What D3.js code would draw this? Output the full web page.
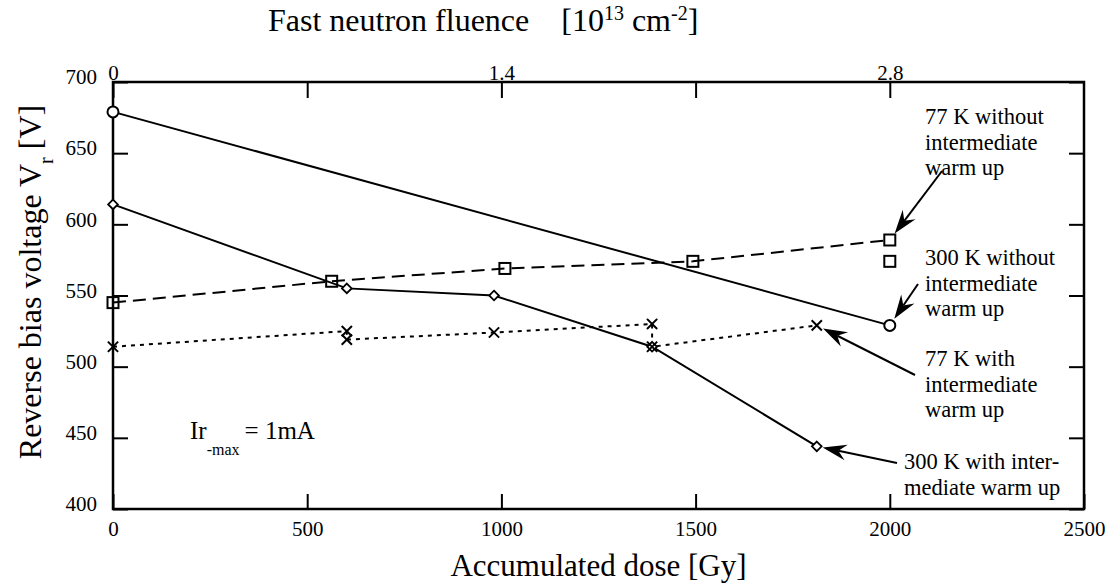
<!DOCTYPE html>
<html>
<head>
<meta charset="utf-8">
<script src="https://cdn.jsdelivr.net/npm/d3@7"></script>
<style>
  body { margin: 0; background: #fff; }
  svg text { font-family: "Liberation Serif", "Times New Roman", "DejaVu Serif", serif !important; fill: #000; }
</style>
</head>
<body>
<svg id="chart" width="1108" height="588"></svg>
<script>
// data (dose in Gy, voltage in V)
const doseTicks = [0, 500, 1000, 1500, 2000, 2500];
const voltTicks = [400, 450, 500, 550, 600, 650, 700];
const fluenceTicks = [0, 0.7, 1.4, 2.1, 2.8];
const fluenceLabels = [0, 1.4, 2.8];

// 300 K without intermediate warm up (circles, solid)
const dose300wo = [0, 2000];
const volt300wo = [679, 529];

// 300 K with intermediate warm up (diamonds, solid)
const dose300w = [0, 602, 981, 1388, 1812];
const volt300w = [614, 555, 550, 514, 444];

// 77 K without intermediate warm up (squares, dashed)
const dose77wo = [0, 563, 1009, 1493, 2000];
const volt77wo = [545, 560, 569, 574, 589];
// extra square, not joined
const dose77woExtra = [2000];
const volt77woExtra = [574];

// 77 K with intermediate warm up (crosses, dotted)
const dose77w = [0, 602, 602, 981, 1388, 1388, 1812];
const volt77w = [514, 525, 519, 524, 530, 514, 529];

const svg = d3.select("#chart");
const marginLeft = 113, marginRight = 24, marginTop = 82, marginBottom = 79;
const width = 1108, height = 588;

const x = d3.scaleLinear([0, 2500], [marginLeft, width - marginRight]);
const y = d3.scaleLinear([400, 700], [height - marginBottom, marginTop]);
// fluence: 2.8e13 at 2000 Gy
const xTop = d3.scaleLinear([0, 3.5], [marginLeft, width - marginRight]);

const axisFont = "21px";

// bottom axis
svg.append("g")
  .attr("transform", `translate(0,${y.range()[0]})`)
  .call(d3.axisBottom(x).tickValues(doseTicks).tickSize(-15).tickPadding(12).tickFormat(d3.format("d")))
  .call(g => g.select(".domain").remove())
  .call(g => g.selectAll(".tick line").attr("stroke-width", 2))
  .call(g => g.selectAll("text").attr("font-size", axisFont));

// left axis
svg.append("g")
  .attr("transform", `translate(${marginLeft},0)`)
  .call(d3.axisLeft(y).tickValues(voltTicks).tickSize(-15).tickPadding(16))
  .call(g => g.select(".domain").remove())
  .call(g => g.selectAll(".tick line").attr("stroke-width", 2))
  .call(g => g.selectAll("text").attr("font-size", axisFont).attr("dy", "0.08em"));

// right axis, ticks only
svg.append("g")
  .attr("transform", `translate(${width - marginRight},0)`)
  .call(d3.axisRight(y).tickValues(voltTicks).tickSize(-15).tickFormat(""))
  .call(g => g.select(".domain").remove())
  .call(g => g.selectAll(".tick line").attr("stroke-width", 2));

// top axis, fluence
svg.append("g")
  .attr("transform", `translate(0,${marginTop})`)
  .call(d3.axisTop(xTop).tickValues(fluenceTicks).tickSize(-16).tickPadding(2)
    .tickFormat(d => fluenceLabels.includes(d) ? (d === 0 ? "0" : d3.format(".1f")(d)) : ""))
  .call(g => g.select(".domain").remove())
  .call(g => g.selectAll(".tick line").attr("stroke-width", 2))
  .call(g => g.selectAll("text").attr("font-size", axisFont));

// frame
svg.append("rect")
  .attr("x", marginLeft).attr("y", marginTop)
  .attr("width", x.range()[1] - marginLeft)
  .attr("height", y.range()[0] - marginTop)
  .attr("fill", "none").attr("stroke", "#000").attr("stroke-width", 2.5);

// lines
const line = d3.line().x(d => x(d[0])).y(d => y(d[1]));
const zipPts = (xs, ys) => xs.map((d, i) => [d, ys[i]]);

const plot = svg.append("g").attr("fill", "none").attr("stroke", "#000");

plot.append("path").attr("d", line(zipPts(dose300wo, volt300wo))).attr("stroke-width", 2);
plot.append("path").attr("d", line(zipPts(dose300w, volt300w))).attr("stroke-width", 2);
plot.append("path").attr("d", line(zipPts(dose77wo, volt77wo)))
  .attr("stroke-width", 2).attr("stroke-dasharray", "13 7");
plot.append("path").attr("d", line(zipPts(dose77w, volt77w)))
  .attr("stroke-width", 2).attr("stroke-dasharray", "4 5");

// markers
const marks = svg.append("g").attr("fill", "#fff").attr("stroke", "#000").attr("stroke-width", 2);

marks.selectAll(".circ").data(zipPts(dose300wo, volt300wo)).join("circle")
  .attr("cx", d => x(d[0])).attr("cy", d => y(d[1])).attr("r", 5.5);

marks.selectAll(".diam").data(zipPts(dose300w, volt300w)).join("path")
  .attr("d", d3.symbol(d3.symbolDiamond2, 60))
  .attr("stroke-width", 1.8)
  .attr("transform", d => `translate(${x(d[0])},${y(d[1])})`);

marks.selectAll(".sq").data(zipPts(dose77wo, volt77wo).concat(zipPts(dose77woExtra, volt77woExtra))).join("rect")
  .attr("x", d => x(d[0]) - 5.5).attr("y", d => y(d[1]) - 5.5)
  .attr("width", 11).attr("height", 11).attr("fill", "none");

marks.selectAll(".cross").data(zipPts(dose77w, volt77w)).join("path")
  .attr("d", d3.symbol(d3.symbolX, 70))
  .attr("fill", "none")
  .attr("transform", d => `translate(${x(d[0])},${y(d[1])})`);

// annotations
const notes = [
  { lines: ["77 K without", "intermediate", "warm up"], tx: 925, ty: 124, tail: [942, 171], target: [2000, 589], gap: 8 },
  { lines: ["300 K without", "intermediate", "warm up"], tx: 925, ty: 265, tail: [918, 284], target: [2000, 529], gap: 8 },
  { lines: ["77 K with", "intermediate", "warm up"], tx: 925, ty: 366, tail: [915, 375], target: [1812, 529], gap: 7 },
  { lines: ["300 K with inter-", "mediate warm up"], tx: 904, ty: 469, tail: [897, 463], target: [1812, 444], gap: 6 }
];

const notesG = svg.append("g");
notes.forEach(n => {
  const t = notesG.append("text").attr("font-size", "22.5px");
  n.lines.forEach((s, i) => {
    t.append("tspan").attr("x", n.tx).attr("y", n.ty + i * 25.5).text(s);
  });
  const px = x(n.target[0]), py = y(n.target[1]);
  const dx = px - n.tail[0], dy = py - n.tail[1];
  const len = Math.hypot(dx, dy);
  const ux = dx / len, uy = dy / len;
  const tipX = px - ux * n.gap, tipY = py - uy * n.gap;
  const L = 24, W = 8, N = 16;
  const bx = tipX - ux * N, by = tipY - uy * N;
  notesG.append("line")
    .attr("x1", n.tail[0]).attr("y1", n.tail[1])
    .attr("x2", bx).attr("y2", by)
    .attr("stroke", "#000").attr("stroke-width", 2);
  const backX = tipX - ux * L, backY = tipY - uy * L;
  notesG.append("path")
    .attr("d", `M${tipX},${tipY} L${backX - uy * W},${backY + ux * W} L${bx},${by} L${backX + uy * W},${backY - ux * W} Z`)
    .attr("fill", "#000");
});

// Ir-max label
const ir = svg.append("text").attr("x", 190).attr("y", 439).attr("font-size", "25px");
ir.append("tspan").text("Ir");
ir.append("tspan").attr("font-size", "16px").attr("dy", 16).text("-max");
ir.append("tspan").attr("dy", -16).attr("dx", 5).text("= 1mA");

// axis titles
const topTitle = svg.append("text").attr("x", 268).attr("y", 31).attr("font-size", "32px");
topTitle.append("tspan").text("Fast neutron fluence\u00a0\u00a0\u00a0\u00a0[10");
topTitle.append("tspan").attr("font-size", "20px").attr("dy", -11).text("13");
topTitle.append("tspan").attr("dy", 11).text(" cm");
topTitle.append("tspan").attr("font-size", "20px").attr("dy", -11).text("-2");
topTitle.append("tspan").attr("dy", 11).text("]");

svg.append("text")
  .attr("x", d3.mean(x.range())).attr("y", 576)
  .attr("text-anchor", "middle").attr("font-size", "31px")
  .text("Accumulated dose [Gy]");

const yl = svg.append("text")
  .attr("transform", `translate(41,282) rotate(-90)`)
  .attr("text-anchor", "middle").attr("font-size", "32px");
yl.append("tspan").text("Reverse bias voltage V");
yl.append("tspan").attr("font-size", "20px").attr("dy", 12).text("r");
yl.append("tspan").attr("dy", -12).text(" [V]");
</script>
</body>
</html>
